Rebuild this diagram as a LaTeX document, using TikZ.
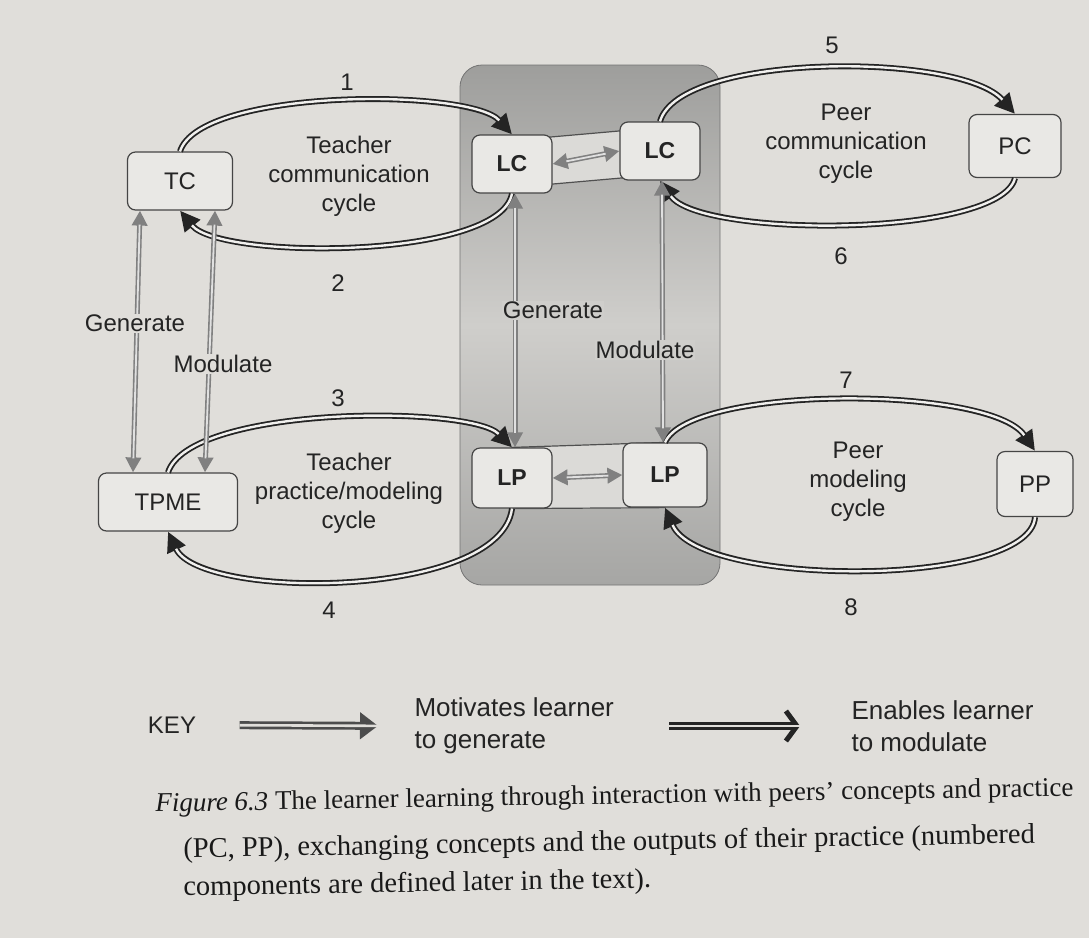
\documentclass[tikz,border=0pt]{standalone}
\usepackage{fontspec}
\setmainfont{Liberation Serif}
\setsansfont{Liberation Sans}
\usetikzlibrary{arrows.meta,positioning,backgrounds}
\definecolor{pageCol}{RGB}{224,222,218}
\definecolor{boxCol}{RGB}{233,232,229}
\definecolor{inkCol}{RGB}{36,36,36}
\definecolor{shadeTop}{RGB}{158,158,156}
\definecolor{shadeMid}{RGB}{207,206,203}
\definecolor{shadeBot}{RGB}{166,166,164}
\colorlet{linkCol}{black!50}

\begin{document}
\begin{tikzpicture}[x=1pt,y=-1pt,
    box/.style={draw=inkCol!85,fill=boxCol,rounded corners=8pt,line width=1.2pt,minimum height=58pt,text=inkCol,font=\sffamily\fontsize{24}{28}\selectfont},
    lbox/.style={box,font=\sffamily\bfseries\fontsize{23}{28}\selectfont},
    lbl/.style={align=center,text=inkCol,font=\sffamily\fontsize{24}{29}\selectfont},
    keytxt/.style={align=left,anchor=west,text=inkCol,font=\sffamily\fontsize{26}{32}\selectfont},
    captxt/.style={anchor=base west,rotate=1,text=black!90,font=\fontsize{28.5}{32}\selectfont},
    cyc/.style={draw=inkCol,line width=6pt,-{Triangle[length=20pt,width=19pt]},
      postaction={draw=pageCol!45!white,line width=2.4pt,-,shorten >=19pt}},
    link/.style={draw=linkCol,line width=5pt,{Triangle[length=15pt,width=15pt]}-{Triangle[length=15pt,width=15pt]},
      postaction={draw=white!88!black,line width=1.8pt,-,shorten >=14pt,shorten <=14pt}},
    keygen/.style={draw=black!70,line width=8pt,-{Triangle[length=18pt,width=26pt]},
      postaction={draw=pageCol,line width=2.6pt,-,shorten >=17pt}},
    keymod/.style={draw=inkCol,line width=8pt,-{Straight Barb[length=11pt,width=30pt,line width=5pt]},
      postaction={draw=pageCol,line width=2.6pt,-,shorten >=6pt}}
  ]
  \useasboundingbox (0,0) rectangle (1089,938);

  % boxes
  \node[box,minimum width=105pt] (tc) at (180,181) {TC};
  \node[box,minimum width=139pt] (tpme) at (168,502) {TPME};
  \node[lbox,minimum width=80pt] (lc1) at (512,164) {LC};
  \node[lbox,minimum width=80pt] (lc2) at (660,151) {LC};
  \node[lbox,minimum width=80pt,minimum height=60pt] (lp1) at (512,478) {LP};
  \node[lbox,minimum width=84pt,minimum height=64pt] (lp2) at (665,475) {LP};
  \node[box,minimum width=92pt,minimum height=63pt] (pc) at (1015,146) {PC};
  \node[box,minimum width=76pt,minimum height=65pt] (pp) at (1035,484) {PP};

  % cycles
  \draw[cyc] (tc.north) .. controls (200,88) and (470,88) .. (lc1.north);
  \draw[cyc] (lc1.south) .. controls (500,260) and (220,260) .. (tc.south);
  \draw[cyc] (lc2.north) .. controls (680,52) and (960,52) .. (pc.north);
  \draw[cyc] (pc.south) .. controls (1000,238) and (700,238) .. (lc2.south);
  \draw[cyc] (tpme.north) .. controls (190,405) and (470,405) .. (lp1.north);
  \draw[cyc] (lp1.south) .. controls (500,600) and (200,600) .. (tpme.south);
  \draw[cyc] (lp2.north) .. controls (690,385) and (990,385) .. (pp.north);
  \draw[cyc] (pp.south) .. controls (1030,588) and (700,588) .. (lp2.south);

  % generate / modulate links
  \draw[link] ([xshift=-40pt]tc.south) -- ([xshift=-35pt]tpme.north);
  \draw[link] ([xshift=35pt]tc.south) -- ([xshift=37pt]tpme.north);
  \draw[link] ([xshift=3pt]lc1.south) -- ([xshift=3pt]lp1.north);
  \draw[link] ([xshift=2pt]lc2.south) -- ([xshift=-2pt]lp2.north);
  \draw[link] (lc1.east) -- (lc2.west);
  \draw[link] (lp1.east) -- (lp2.west);

  \node[lbl,fill=pageCol,inner sep=1pt] (gen1) at (135,323) {Generate};
  \node[lbl,fill=pageCol,inner sep=1pt] (mod1) at (223,364) {Modulate};
  \node[lbl,fill=shadeMid,inner sep=1pt] (gen2) at (553,310) {Generate};
  \node[lbl,fill=shadeMid,inner sep=1pt] (mod2) at (645,350) {Modulate};

  % cycle names and numbers
  \node[lbl] (tcc) at (349,176) {Teacher\\communication\\cycle};
  \node[lbl] (tpc) at (349,493) {Teacher\\practice/modeling\\cycle};
  \node[lbl] (pcc) at (846,144) {Peer\\communication\\cycle};
  \node[lbl] (pmc) at (858,482) {Peer\\modeling\\cycle};
  \node[lbl] (n1) at (347,82) {1};
  \node[lbl] (n2) at (338,283) {2};
  \node[lbl] (n3) at (338,398) {3};
  \node[lbl] (n4) at (329,610) {4};
  \node[lbl] (n5) at (832,45) {5};
  \node[lbl] (n6) at (841,256) {6};
  \node[lbl] (n7) at (846,380) {7};
  \node[lbl] (n8) at (851,607) {8};

  % key
  \node[lbl] (key) at (172,725) {KEY};
  \node[keytxt] (kgen) at (411,726) {Motivates learner\\to generate};
  \node[keytxt] (kmod) at (848,726) {Enables learner\\to modulate};
  \draw[keygen,shorten <=40pt,shorten >=33pt] (key.east) -- (kgen.west);
  \draw[keymod,shorten <=52pt,shorten >=48pt] (kgen.east) -- (kmod.west);

  % caption
  \node[captxt,font=\fontsize{27}{32}\selectfont] (cap1) at (152,812) {\textit{Figure 6.3} The learner learning through interaction with peers’ concepts and practice};
  \node[captxt] (cap2) at (180,858) {(PC, PP), exchanging concepts and the outputs of their practice (numbered};
  \node[captxt] (cap3) at (180,896) {components are defined later in the text).};

  \begin{scope}[on background layer]
    \fill[pageCol] (0,0) rectangle (1089,938);
    \shade[top color=shadeTop,bottom color=shadeBot,middle color=shadeMid,draw=black!55,line width=0.8pt,rounded corners=22pt] (460,65) rectangle (720,585);
    \draw[fill=boxCol!94!black,draw=inkCol!80,line width=1.2pt] ([yshift=-6pt]lc1.north) -- ([yshift=-6pt]lc2.north) -- ([yshift=6pt]lc2.south) -- ([yshift=6pt]lc1.south) -- cycle;
    \draw[fill=boxCol!94!black,draw=inkCol!80,line width=1.2pt] (lp1.north) -- (lp2.north) -- (lp2.south) -- (lp1.south) -- cycle;
  \end{scope}
\end{tikzpicture}
\end{document}
